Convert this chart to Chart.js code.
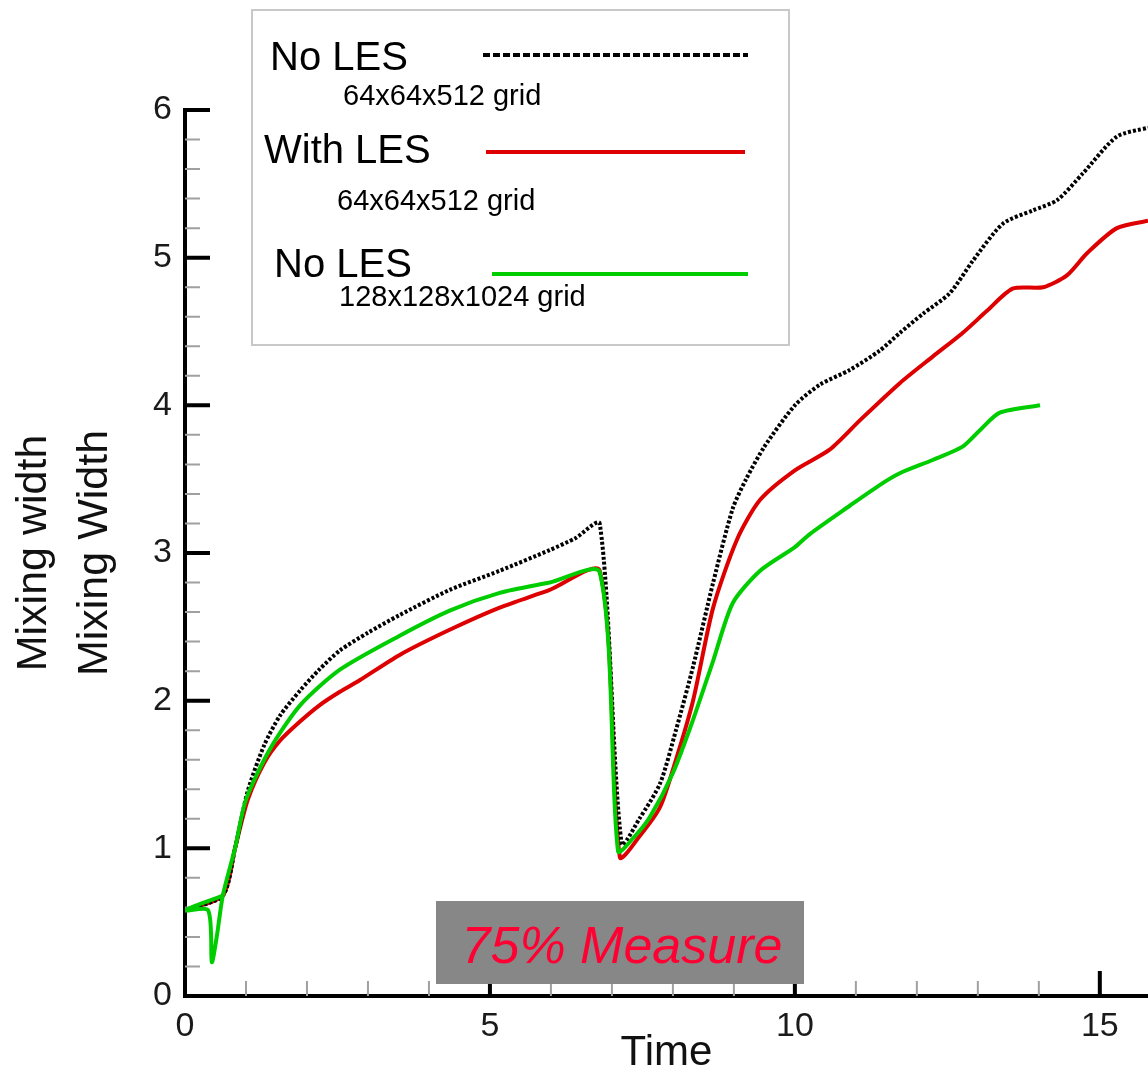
<!DOCTYPE html>
<html>
<head>
<meta charset="utf-8">
<script src="https://cdn.jsdelivr.net/npm/chart.js@4"></script>
<style>
  body { margin: 0; background: #fff; }
  #wrap { width: 1148px; height: 1081px; }
</style>
</head>
<body>
<div id="wrap"><canvas id="graphique" width="1148" height="1081"></canvas></div>
<script>
// No LES, 64x64x512 grid (black dotted)
const timeNoLes64 = [0, 0.62, 0.82, 1.03, 1.3, 1.56, 1.89, 2.2, 2.54, 3.0, 3.52, 4.34, 5.16, 5.98, 6.4, 6.8,
  7.16, 7.45, 7.79, 8.05, 8.33, 8.66, 8.98, 9.2, 9.5, 10.0, 10.41, 10.9, 11.39, 11.72, 12.1, 12.54, 12.92, 13.41, 13.9, 14.3, 14.72, 15.28, 15.79];
const widthNoLes64 = [0.58, 0.68, 1.0, 1.39, 1.7, 1.9, 2.07, 2.21, 2.34, 2.46, 2.58, 2.75, 2.88, 3.02, 3.1, 3.2,
  1.03, 1.2, 1.44, 1.8, 2.23, 2.8, 3.3, 3.5, 3.72, 4.0, 4.14, 4.24, 4.37, 4.49, 4.62, 4.76, 4.98, 5.23, 5.32, 5.39, 5.57, 5.82, 5.88];

// With LES, 64x64x512 grid (red)
const timeWithLes64 = [0, 0.62, 0.82, 1.03, 1.3, 1.56, 1.89, 2.21, 2.54, 2.87, 3.52, 4.34, 5.16, 5.98, 6.8,
  7.13, 7.45, 7.79, 8.05, 8.33, 8.66, 9.05, 9.43, 10.0, 10.57, 11.07, 11.72, 12.26, 12.75, 13.15, 13.57, 14.07, 14.46, 14.79, 15.28, 15.79];
const widthWithLes64 = [0.58, 0.68, 1.0, 1.33, 1.58, 1.73, 1.86, 1.97, 2.06, 2.14, 2.31, 2.48, 2.63, 2.75, 2.88,
  0.94, 1.08, 1.28, 1.6, 2.0, 2.63, 3.09, 3.36, 3.56, 3.7, 3.9, 4.15, 4.33, 4.49, 4.64, 4.79, 4.8, 4.88, 5.03, 5.2, 5.25];

// No LES, 128x128x1024 grid (green)
const timeNoLes128 = [0.62, 0, 0.38, 0.44, 0.52, 0.62, 0.82, 1.0, 1.39, 1.89, 2.54, 3.52, 4.34, 5.16, 5.98, 6.8,
  7.1, 7.35, 7.62, 8.0, 8.33, 8.66, 8.98, 9.43, 10.0, 10.25, 10.9, 11.39, 11.72, 12.26, 12.75, 13.03, 13.36, 14.02];
const widthNoLes128 = [0.68, 0.58, 0.58, 0.23, 0.4, 0.68, 1.0, 1.33, 1.67, 1.97, 2.21, 2.44, 2.61, 2.73, 2.8, 2.87,
  0.98, 1.07, 1.21, 1.51, 1.87, 2.27, 2.66, 2.88, 3.04, 3.13, 3.32, 3.46, 3.54, 3.63, 3.72, 3.83, 3.95, 4.0];

const xTicks = [0, 5, 10, 15];
const yTicks = [0, 1, 2, 3, 4, 5, 6];
const xMinorTicks = [1, 2, 3, 4, 6, 7, 8, 9, 11, 12, 13, 14];
const yMinorTicks = [0.2, 0.4, 0.6, 0.8, 1.2, 1.4, 1.6, 1.8, 2.2, 2.4, 2.6, 2.8, 3.2, 3.4, 3.6, 3.8, 4.2, 4.4, 4.6, 4.8, 5.2, 5.4, 5.6, 5.8];

const legendNames = ['No LES', 'With LES', 'No LES'];
const legendGrids = ['64x64x512 grid', '64x64x512 grid', '128x128x1024 grid'];
const measureText = '75% Measure';

const FONT = "'Liberation Sans', Arial, sans-serif";
const RED = 'rgb(222, 0, 0)';
const GREEN = 'rgb(0, 205, 0)';

function pts(xs, ys) {
  return xs.map((v, i) => ({ x: v, y: ys[i] }));
}

// ticks pointing into the plot (Tecplot style)
const inwardTicks = {
  id: 'inwardTicks',
  beforeDatasetsDraw(chart) {
    const { ctx, scales: { x, y } } = chart;
    const x0 = x.getPixelForValue(0);
    const y0 = y.getPixelForValue(0);
    ctx.save();
    ctx.strokeStyle = '#a0a0a0';
    ctx.lineWidth = 2;
    ctx.beginPath();
    xMinorTicks.forEach(t => {
      const px = x.getPixelForValue(t);
      ctx.moveTo(px, y0); ctx.lineTo(px, y0 - 15);
    });
    yMinorTicks.forEach(t => {
      const py = y.getPixelForValue(t);
      ctx.moveTo(x0, py); ctx.lineTo(x0 + 15, py);
    });
    ctx.stroke();
    ctx.strokeStyle = '#000';
    ctx.lineWidth = 4;
    ctx.beginPath();
    xTicks.forEach(t => {
      const px = x.getPixelForValue(t);
      ctx.moveTo(px, y0); ctx.lineTo(px, y0 - 25);
    });
    yTicks.forEach(t => {
      const py = y.getPixelForValue(t);
      ctx.moveTo(x0, py); ctx.lineTo(x0 + 25, py);
    });
    ctx.stroke();
    ctx.restore();
  }
};

// legend box and the grey "75% Measure" tag
const extras = {
  id: 'extras',
  afterDraw(chart) {
    const ctx = chart.ctx;
    ctx.save();
    ctx.fillStyle = '#fff';
    ctx.fillRect(252, 10, 537, 335);
    ctx.strokeStyle = '#c8c8c8';
    ctx.lineWidth = 2;
    ctx.strokeRect(252, 10, 537, 335);

    const nameX = [270, 264, 274];
    const nameY = [70, 163, 277];
    const gridX = [343, 337, 339];
    const gridY = [105, 210, 306];
    const lineX = [[483, 748], [486, 745], [492, 748]];
    const lineY = [55, 152, 274];
    const colors = ['#000', RED, GREEN];
    ctx.fillStyle = '#000';
    ctx.textBaseline = 'alphabetic';
    ctx.textAlign = 'left';
    for (let i = 0; i < 3; i++) {
      ctx.font = '40px ' + FONT;
      ctx.fillText(legendNames[i], nameX[i], nameY[i]);
      ctx.font = '29px ' + FONT;
      ctx.fillText(legendGrids[i], gridX[i], gridY[i]);
      ctx.strokeStyle = colors[i];
      ctx.lineWidth = 4;
      ctx.setLineDash(i === 0 ? [7, 3] : []);
      ctx.beginPath();
      ctx.moveTo(lineX[i][0], lineY[i]);
      ctx.lineTo(lineX[i][1], lineY[i]);
      ctx.stroke();
    }
    ctx.setLineDash([]);

    ctx.fillStyle = '#878787';
    ctx.fillRect(436, 901, 368, 83);
    ctx.fillStyle = 'rgb(255, 0, 51)';
    ctx.font = 'italic 52px ' + FONT;
    ctx.textAlign = 'center';
    ctx.textBaseline = 'alphabetic';
    ctx.fillText(measureText, 622, 963);
    ctx.restore();
  }
};

const ctx = document.getElementById('graphique').getContext('2d');
new Chart(ctx, {
  type: 'scatter',
  data: {
    datasets: [
      {
        label: 'No LES 64x64x512 grid',
        data: pts(timeNoLes64, widthNoLes64),
        showLine: true,
        borderColor: '#000',
        borderWidth: 4,
        borderDash: [3, 2],
        pointRadius: 0,
        tension: 0.25,
        order: 1
      },
      {
        label: 'With LES 64x64x512 grid',
        data: pts(timeWithLes64, widthWithLes64),
        showLine: true,
        borderColor: RED,
        borderWidth: 4,
        pointRadius: 0,
        tension: 0.25,
        order: 2
      },
      {
        label: 'No LES 128x128x1024 grid',
        data: pts(timeNoLes128, widthNoLes128),
        showLine: true,
        borderColor: GREEN,
        borderWidth: 4,
        pointRadius: 0,
        tension: 0.25,
        order: 0
      }
    ]
  },
  options: {
    responsive: false,
    animation: false,
    layout: { padding: { top: 110, right: 0, left: 0, bottom: 0 } },
    plugins: {
      legend: { display: false },
      tooltip: { enabled: false }
    },
    scales: {
      x: {
        type: 'linear',
        min: 0,
        max: 15.79,
        afterFit: s => { s.height = 85; },
        afterBuildTicks: s => { s.ticks = xTicks.map(v => ({ value: v })); },
        grid: { display: false, drawTicks: false },
        border: { display: true, color: '#000', width: 4 },
        ticks: { padding: 10, color: '#1a1a1a', font: { family: FONT, size: 34 } },
        title: {
          display: true,
          text: 'Time',
          color: '#111',
          padding: { top: 0, bottom: 2 },
          font: { family: FONT, size: 42 }
        }
      },
      y: {
        type: 'linear',
        min: 0,
        max: 6,
        afterFit: s => { s.width = 185; },
        afterBuildTicks: s => { s.ticks = yTicks.map(v => ({ value: v })); },
        grid: { display: false, drawTicks: false },
        border: { display: true, color: '#000', width: 4 },
        ticks: { padding: 13, color: '#1a1a1a', font: { family: FONT, size: 34 } },
        title: {
          display: true,
          text: ['Mixing width', 'Mixing Width'],
          color: '#111',
          padding: { top: 4, bottom: 0 },
          font: { family: FONT, size: 43, lineHeight: 1.42 }
        }
      }
    }
  },
  plugins: [inwardTicks, extras]
});
</script>
</body>
</html>
